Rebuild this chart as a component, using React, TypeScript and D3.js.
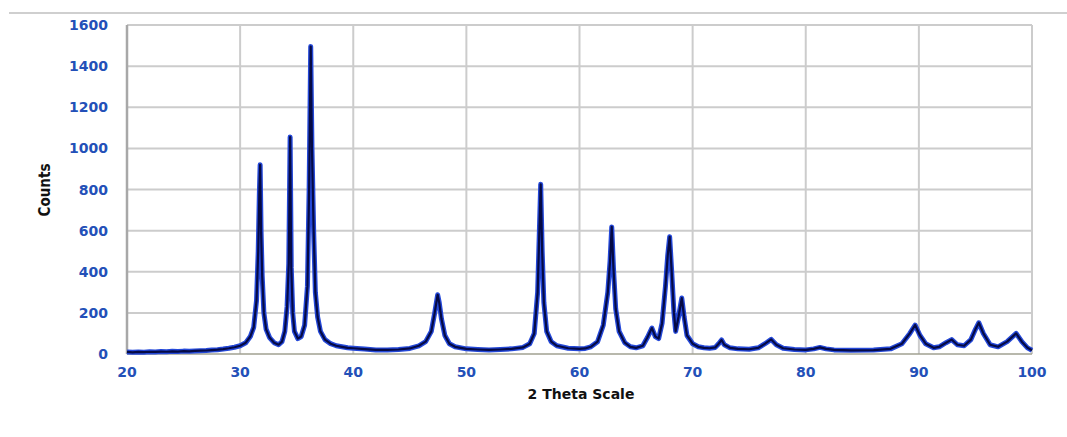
import React from "react";
import { scaleLinear, line } from "d3";

// 2-theta positions and counts
const twoTheta = [
  20, 20.5, 21, 21.5, 22, 22.5, 23, 23.5, 24, 24.5, 25, 25.5, 26, 26.5, 27, 27.5, 28, 28.5, 29, 29.5,
  30, 30.5, 30.9, 31.2, 31.45, 31.6, 31.7, 31.77, 31.85, 31.95, 32.1, 32.3, 32.6, 33, 33.4, 33.7,
  33.95, 34.15, 34.3, 34.42, 34.52, 34.65, 34.8, 35.1, 35.4, 35.7, 35.95, 36.1, 36.24, 36.35, 36.5,
  36.65, 36.85, 37.1, 37.5, 38, 38.5, 39, 39.5, 40, 41, 42, 43, 44, 45, 45.8, 46.4, 46.9, 47.2,
  47.46, 47.6, 47.8, 48.1, 48.5, 49, 50, 51, 52, 53, 54, 55, 55.6, 56, 56.3, 56.57, 56.7, 56.85,
  57.1, 57.5, 58, 59, 60, 60.5, 61, 61.6, 62.1, 62.5, 62.7, 62.85, 63, 63.2, 63.5, 64, 64.5, 65,
  65.6, 66, 66.4, 66.7, 67, 67.3, 67.6, 67.8, 67.97, 68.15, 68.35, 68.5, 68.75, 69.04, 69.25, 69.5,
  70, 70.5, 71, 71.5, 72, 72.3, 72.56, 72.8, 73.3, 74, 75, 75.8, 76.4, 76.95, 77.4, 78, 79, 80,
  80.7, 81.25, 81.8, 82.5, 84, 86, 87.5, 88.5, 89.2, 89.67, 90.1, 90.6, 91.3, 91.8, 92.4, 92.9,
  93.4, 94, 94.6, 95, 95.3, 95.7, 96.3, 97, 97.8, 98.6, 99.1, 99.6, 100,
];
const counts = [
  10, 8, 10, 9, 11, 10, 12, 11, 13, 12, 14, 13, 15, 16, 17, 19, 21, 24, 28, 33,
  40, 55, 85, 130, 260, 500, 780, 920, 600, 380, 200, 120, 80, 55, 45, 60,
  110, 230, 440, 1055, 420, 200, 110, 75, 85, 140, 330, 800, 1495, 1000, 600,
  300, 180, 110, 70, 50, 40, 35, 30, 28, 24, 20, 20, 22, 27, 40, 60, 110, 200,
  288, 250, 170, 90, 50, 35, 25, 22, 20, 22, 25, 32, 50, 100, 300, 825, 500, 250,
  110, 60, 40, 28, 25, 27, 35, 60, 140, 300, 450, 618, 420, 220, 110, 55, 35, 30,
  40, 80, 126, 85, 75, 150, 330, 480, 570, 400, 200, 110, 180, 272, 180, 90,
  50, 35, 30, 28, 32, 50, 68, 45, 30, 25, 23, 30, 50, 71, 45, 28, 22, 20,
  25, 32, 25, 20, 18, 19, 25, 50, 100, 141, 90, 50, 30, 35, 55, 70,
  45, 40, 70, 120, 152, 100, 45, 35, 60, 100, 60, 30, 18,
];
const xTicks = [20, 30, 40, 50, 60, 70, 80, 90, 100];
const yTicks = [0, 200, 400, 600, 800, 1000, 1200, 1400, 1600];

const width = 1067;
const height = 437;
const margin = { top: 25, right: 35, bottom: 83, left: 127 };

export default function App() {
  const x = scaleLinear().domain([20, 100]).range([margin.left, width - margin.right]);
  const y = scaleLinear().domain([0, 1600]).range([height - margin.bottom, margin.top]);

  const points = twoTheta.map((t, i) => [t, counts[i]] as [number, number]);
  const path = line<[number, number]>()
    .x((d) => x(d[0]))
    .y((d) => y(d[1]))(points) as string;

  const tickFont = { fontFamily: "DejaVu Sans", fontWeight: 700, fontSize: 14, fill: "#2350b8" };

  return (
    <svg
      width={width}
      height={height}
      style={{ position: "absolute", left: 0, top: 0, background: "#fff" }}
    >
      <line x1={9} x2={width} y1={13} y2={13} stroke="#cfcfcf" strokeWidth={2} />

      {/* grid */}
      {yTicks.slice(1).map((t) => (
        <line key={"gy" + t} x1={x(20)} x2={x(100)} y1={y(t)} y2={y(t)} stroke="#cccccc" strokeWidth={2} />
      ))}
      {xTicks.slice(1).map((t) => (
        <line key={"gx" + t} x1={x(t)} x2={x(t)} y1={y(1600)} y2={y(0)} stroke="#cccccc" strokeWidth={2} />
      ))}
      <line x1={x(20)} x2={x(20)} y1={y(1600)} y2={y(0)} stroke="#a8a8a8" strokeWidth={2.5} />
      <line x1={x(20)} x2={x(100)} y1={y(0)} y2={y(0)} stroke="#a0a090" strokeWidth={1.5} />

      {/* data */}
      <path d={path} fill="none" stroke="#2448d8" strokeWidth={5} strokeLinejoin="round" />
      <path d={path} fill="none" stroke="#050a45" strokeWidth={2.2} strokeLinejoin="round" />

      {/* tick labels */}
      {yTicks.map((t) => (
        <text key={"ty" + t} x={108} y={y(t) + 5} textAnchor="end" style={tickFont}>
          {t}
        </text>
      ))}
      {xTicks.map((t) => (
        <text key={"tx" + t} x={x(t)} y={377} textAnchor="middle" style={tickFont}>
          {t}
        </text>
      ))}

      <text
        x={581}
        y={399}
        textAnchor="middle"
        style={{ fontFamily: "DejaVu Sans", fontWeight: 700, fontSize: 14, fill: "#111" }}
      >
        2 Theta Scale
      </text>
      <text
        transform="translate(50,190) rotate(-90)"
        textAnchor="middle"
        style={{ fontFamily: "Liberation Sans Narrow, DejaVu Sans Condensed", fontWeight: 700, fontSize: 15, fill: "#111" }}
      >
        Counts
      </text>
    </svg>
  );
}
